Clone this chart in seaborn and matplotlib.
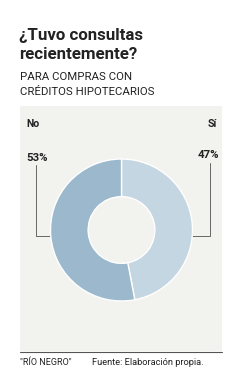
import matplotlib
matplotlib.use('Agg')
import matplotlib.pyplot as plt
import seaborn as sns
from matplotlib.patches import Rectangle

# datos
categorias = ['Sí', 'No']
valores = [47, 53]
etiquetas = ['47%', '53%']
colores = ['#c4d6e2', '#9bb8cc']

titulo = ['¿Tuvo consultas', 'recientemente?']
subtitulo = ['PARA COMPRAS CON', 'CRÉDITOS HIPOTECARIOS']
credito = '"RÍO NEGRO"'
fuente = 'Fuente: Elaboración propia.'

sns.set_style('white')
plt.rcParams['font.family'] = ['Roboto', 'DejaVu Sans']

W, H = 243, 382
fig = plt.figure(figsize=(W / 100, H / 100), dpi=100)
fig.patch.set_facecolor('white')

# capa de fondo en coordenadas de pixel
bg = fig.add_axes([0, 0, 1, 1])
bg.set_xlim(0, W)
bg.set_ylim(H, 0)
bg.axis('off')

bg.add_patch(Rectangle((20, 106), 202, 245, facecolor='#f2f2ef', edgecolor='none'))
bg.plot([20, 222], [351.5, 351.5], color='#555555', lw=0.8)

for linea, y in zip(titulo, [40, 59]):
    bg.text(19, y, linea, fontsize=12.2, fontweight='bold', color='#222222', va='baseline')
for linea, y in zip(subtitulo, [80, 95]):
    bg.text(20, y, linea, fontsize=8.2, color='#222222', va='baseline')

bg.text(26, 127, categorias[1], fontsize=7.6, fontweight='bold', color='#222222', va='baseline')
bg.text(217, 127, categorias[0], fontsize=7.6, fontweight='bold', color='#222222',
        va='baseline', ha='right')
bg.text(26, 161, etiquetas[1], fontsize=8.2, fontweight='bold', color='#222222', va='baseline')
bg.text(219, 158, etiquetas[0], fontsize=8.2, fontweight='bold', color='#222222',
        va='baseline', ha='right')

# lineas guia
bg.plot([36, 36, 51], [165, 236, 236], color='#666666', lw=0.7)
bg.plot([210, 210, 192], [163, 236, 236], color='#666666', lw=0.7)

bg.text(20, 365, credito, fontsize=6.5, color='#222222', va='baseline')
bg.text(92, 365, fuente, fontsize=6.7, color='#222222', va='baseline')

# dona
cx, cy, r = 121.5, 230, 71
ax = fig.add_axes([(cx - r) / W, 1 - (cy + r) / H, 2 * r / W, 2 * r / H])
ax.pie(valores, colors=colores, startangle=90, counterclock=False,
       wedgeprops=dict(width=0.53, edgecolor='white', linewidth=1))
ax.set_xlim(-1, 1)
ax.set_ylim(-1, 1)
ax.set_aspect('equal')
ax.axis('off')

fig.savefig('out.png', dpi=100, facecolor='white')
